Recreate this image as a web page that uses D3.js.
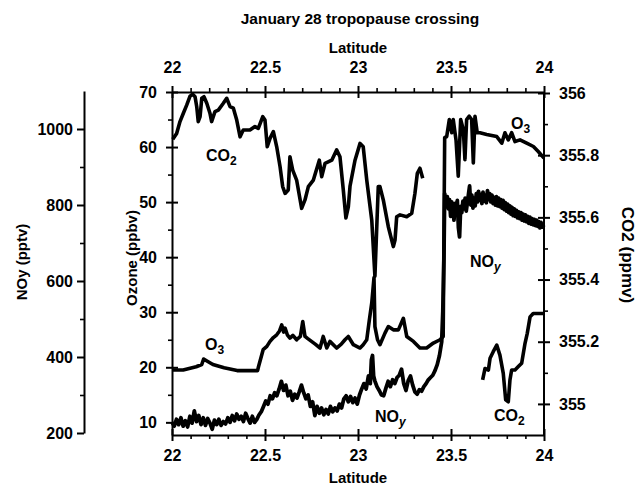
<!DOCTYPE html>
<html>
<head>
<meta charset="utf-8">
<script src="https://cdn.jsdelivr.net/npm/d3@7"></script>
<style>
  body { margin: 0; background: #fff; }
  svg { font-family: "Liberation Sans", Arial, sans-serif; font-weight: bold; }
</style>
</head>
<body>
<svg id="chart" width="641" height="486"></svg>
<script>
// [latitude, value] pairs
const co2West = [
  [22.004, 355.851], [22.025, 355.870], [22.043, 355.908], [22.061, 355.935], [22.079, 355.961],
  [22.097, 355.990], [22.111, 355.996], [22.124, 355.988], [22.133, 355.956], [22.141, 355.908],
  [22.151, 355.924], [22.160, 355.983], [22.172, 355.988], [22.187, 355.967], [22.204, 355.935],
  [22.213, 355.908], [22.231, 355.940], [22.249, 355.945], [22.276, 355.967], [22.294, 355.983],
  [22.312, 355.956], [22.330, 355.951], [22.348, 355.913], [22.366, 355.859], [22.383, 355.881],
  [22.419, 355.881], [22.446, 355.892], [22.464, 355.886], [22.488, 355.924], [22.500, 355.913],
  [22.512, 355.827], [22.527, 355.854], [22.545, 355.876], [22.563, 355.827], [22.581, 355.763],
  [22.595, 355.699], [22.608, 355.677], [22.625, 355.688], [22.634, 355.795], [22.649, 355.752],
  [22.670, 355.720], [22.697, 355.629], [22.715, 355.656], [22.733, 355.699], [22.760, 355.720],
  [22.792, 355.784], [22.805, 355.731], [22.823, 355.774], [22.859, 355.784], [22.885, 355.817],
  [22.903, 355.795], [22.921, 355.688], [22.935, 355.598], [22.948, 355.634], [22.957, 355.700],
  [22.984, 355.784], [23.011, 355.838], [23.028, 355.827], [23.047, 355.720], [23.074, 355.591],
  [23.086, 355.463], [23.091, 355.411], [23.109, 355.699], [23.118, 355.699], [23.136, 355.656],
  [23.163, 355.570], [23.190, 355.506], [23.199, 355.527], [23.208, 355.602], [23.226, 355.608],
  [23.262, 355.602], [23.289, 355.613], [23.306, 355.677], [23.319, 355.742], [23.333, 355.758],
  [23.348, 355.726]
]

const co2East = [
  [23.670, 355.077], [23.683, 355.114], [23.701, 355.109], [23.710, 355.147], [23.727, 355.168],
  [23.746, 355.189], [23.763, 355.157], [23.781, 355.098], [23.794, 355.013], [23.808, 355.007],
  [23.817, 355.077], [23.826, 355.109], [23.844, 355.109], [23.862, 355.120], [23.880, 355.131],
  [23.898, 355.195], [23.910, 355.227], [23.925, 355.280], [23.942, 355.291], [24.000, 355.291]
]

const ozone = [
  [22.000, 19.5], [22.060, 19.5], [22.130, 20.1], [22.160, 20.5], [22.170, 21.5], [22.190, 21.1],
  [22.220, 20.5], [22.280, 19.9], [22.350, 19.4], [22.460, 19.4], [22.465, 20.1], [22.490, 23.2],
  [22.510, 23.8], [22.527, 24.7], [22.545, 25.4], [22.563, 25.9], [22.578, 26.6], [22.590, 27.7],
  [22.600, 26.4], [22.608, 27.1], [22.620, 25.9], [22.634, 25.3], [22.650, 25.8], [22.670, 25.0],
  [22.690, 25.6], [22.703, 28.3], [22.715, 25.6], [22.730, 25.2], [22.750, 24.7], [22.770, 24.2],
  [22.796, 23.5], [22.813, 25.6], [22.832, 23.5], [22.849, 24.7], [22.885, 23.5], [22.910, 24.2],
  [22.930, 25.0], [22.948, 25.6], [22.975, 24.1], [23.011, 23.5], [23.028, 24.1], [23.047, 25.0],
  [23.061, 28.6], [23.074, 31.7], [23.086, 36.3], [23.091, 27.4], [23.105, 25.0], [23.118, 24.1],
  [23.145, 26.2], [23.163, 27.4], [23.190, 26.8], [23.217, 26.8], [23.244, 28.9], [23.262, 25.6],
  [23.298, 24.7], [23.333, 23.5], [23.369, 23.5], [23.405, 24.4], [23.441, 25.0], [23.458, 25.6],
  [23.466, 61.7], [23.477, 61.9], [23.491, 65.0], [23.504, 62.6], [23.512, 65.0], [23.527, 61.3],
  [23.539, 54.7], [23.552, 65.0], [23.566, 63.2], [23.575, 57.7], [23.584, 65.0], [23.598, 65.6],
  [23.611, 65.0], [23.620, 57.1], [23.629, 65.6], [23.641, 62.6], [23.656, 62.6], [23.692, 62.3],
  [23.746, 61.9], [23.773, 60.7], [23.790, 62.6], [23.808, 61.3], [23.826, 62.6], [23.844, 61.0],
  [23.871, 61.3], [23.907, 60.7], [23.943, 60.1], [23.969, 59.2], [24.000, 58.0]
]

const noy = [
  [22.000, 228], [22.012, 218], [22.024, 236], [22.036, 222], [22.048, 240], [22.060, 218],
  [22.072, 232], [22.084, 216], [22.096, 244], [22.108, 226], [22.120, 258], [22.132, 230],
  [22.144, 246], [22.156, 222], [22.168, 240], [22.180, 220], [22.192, 238], [22.204, 226],
  [22.216, 210], [22.228, 234], [22.240, 222], [22.252, 236], [22.264, 220], [22.276, 230],
  [22.288, 224], [22.300, 240], [22.312, 228], [22.324, 246], [22.336, 232], [22.348, 250],
  [22.360, 236], [22.372, 244], [22.384, 230], [22.396, 252], [22.408, 238], [22.420, 226],
  [22.432, 244], [22.444, 228], [22.456, 236], [22.468, 248], [22.480, 256], [22.492, 270],
  [22.504, 284], [22.516, 276], [22.528, 298], [22.540, 290], [22.552, 306], [22.564, 298],
  [22.576, 316], [22.588, 336], [22.600, 312], [22.612, 326], [22.624, 298], [22.636, 310],
  [22.648, 286], [22.660, 302], [22.672, 292], [22.684, 308], [22.696, 326], [22.708, 306],
  [22.720, 290], [22.732, 300], [22.744, 270], [22.756, 282], [22.768, 246], [22.780, 270],
  [22.792, 252], [22.804, 266], [22.816, 248], [22.828, 262], [22.840, 250], [22.852, 270],
  [22.864, 256], [22.876, 266], [22.888, 258], [22.900, 276], [22.912, 266], [22.924, 290],
  [22.936, 298], [22.948, 282], [22.960, 296], [22.972, 280], [22.984, 292], [22.996, 276],
  [23.008, 300], [23.020, 316], [23.032, 330], [23.044, 316], [23.056, 350], [23.066, 330],
  [23.072, 392], [23.078, 404], [23.084, 350], [23.090, 338], [23.102, 322], [23.114, 312],
  [23.126, 300], [23.138, 298], [23.150, 318], [23.162, 336], [23.174, 322], [23.186, 340],
  [23.198, 330], [23.210, 346], [23.222, 352], [23.234, 368], [23.246, 330], [23.258, 312],
  [23.270, 338], [23.282, 350], [23.294, 326], [23.306, 308], [23.318, 302], [23.330, 314],
  [23.342, 310], [23.354, 322], [23.366, 330], [23.378, 340], [23.390, 346], [23.402, 352],
  [23.414, 364], [23.426, 380], [23.438, 404], [23.450, 440], [23.456, 520], [23.462, 660],
  [23.466, 830], [23.474, 800], [23.480, 822], [23.486, 790], [23.492, 814], [23.498, 770],
  [23.504, 808], [23.510, 786], [23.516, 760], [23.522, 804], [23.528, 778], [23.534, 812],
  [23.540, 740], [23.546, 716], [23.552, 796], [23.558, 780], [23.564, 810], [23.570, 790],
  [23.576, 818], [23.582, 784], [23.588, 806], [23.594, 828], [23.600, 850], [23.606, 800],
  [23.612, 826], [23.618, 792], [23.624, 818], [23.630, 798], [23.636, 830], [23.642, 808],
  [23.648, 836], [23.654, 812], [23.660, 828], [23.666, 804], [23.672, 834], [23.678, 810],
  [23.684, 826], [23.690, 806], [23.696, 838], [23.702, 814], [23.708, 830], [23.714, 808],
  [23.720, 826], [23.726, 804], [23.732, 820], [23.738, 800], [23.744, 822], [23.750, 798],
  [23.756, 818], [23.762, 796], [23.768, 814], [23.774, 792], [23.780, 812], [23.786, 788],
  [23.792, 806], [23.798, 784], [23.804, 802], [23.810, 780], [23.816, 798], [23.822, 776],
  [23.828, 794], [23.834, 772], [23.840, 790], [23.846, 770], [23.852, 786], [23.858, 766],
  [23.864, 782], [23.870, 764], [23.876, 780], [23.882, 760], [23.888, 776], [23.894, 758],
  [23.900, 774], [23.906, 756], [23.912, 770], [23.918, 752], [23.924, 768], [23.930, 750],
  [23.936, 764], [23.942, 748], [23.948, 762], [23.954, 746], [23.960, 760], [23.966, 744],
  [23.972, 756], [23.978, 740], [23.984, 754], [23.990, 742], [24.000, 748]
]

const latTicks = [22, 22.5, 23, 23.5, 24]
const latMinor = [22.1, 22.2, 22.3, 22.4, 22.6, 22.7, 22.8, 22.9, 23.1, 23.2, 23.3, 23.4, 23.6, 23.7, 23.8, 23.9]
const ozoneTicks = [10, 20, 30, 40, 50, 60, 70]
const ozoneMinor = [15, 25, 35, 45, 55, 65]
const co2Ticks = [355, 355.2, 355.4, 355.6, 355.8, 356]
const co2Minor = [355.1, 355.3, 355.5, 355.7, 355.9]
const noyTicks = [200, 400, 600, 800, 1000]
const noyMinor = [300, 500, 700, 900]

const svg = d3.select('#chart')

const x = d3.scaleLinear().domain([22, 24]).range([172, 544])
const yO3 = d3.scaleLinear().domain([7.7, 70]).range([435, 92])
const yCO2 = d3.scaleLinear().domain([354.9, 356]).range([435, 93])
const yNOy = d3.scaleLinear().domain([200, 1100]).range([433, 91])

const fmt = d => String(d)

function styleAxis(g, cross) {
  g.selectAll('path.domain').attr('stroke-width', 2)
  g.selectAll('.tick line').attr('stroke-width', 2)
  g.selectAll('.tick text')
    .style('font-family', '"Liberation Sans", Arial, sans-serif')
    .style('font-weight', 'bold')
    .style('font-size', '16px')
    .attr('fill', '#000')
  if (cross) cross(g.selectAll('.tick line'))
}

function minor(axis, t) {
  return g => g.call(axis.tickValues(t).tickSize(4).tickFormat(''))
    .call(g => g.select('.domain').remove())
    .selectAll('.tick line').attr('stroke-width', 1.6)
}

// bottom axis
svg.append('g').attr('transform', 'translate(0,435)')
  .call(d3.axisBottom(x).tickValues(latTicks).tickFormat(fmt).tickSize(6).tickSizeOuter(0).tickPadding(9))
  .call(g => styleAxis(g, l => l.attr('y1', -6)))
svg.append('g').attr('transform', 'translate(0,435)').call(minor(d3.axisBottom(x), latMinor))

// top axis
svg.append('g').attr('transform', 'translate(0,92)')
  .call(d3.axisTop(x).tickValues(latTicks).tickFormat(fmt).tickSize(6).tickSizeOuter(0).tickPadding(13))
  .call(g => styleAxis(g, l => l.attr('y1', 6)))
svg.append('g').attr('transform', 'translate(0,92)').call(minor(d3.axisTop(x), latMinor))

// ozone axis
svg.append('g').attr('transform', 'translate(172,0)')
  .call(d3.axisLeft(yO3).tickValues(ozoneTicks).tickFormat(fmt).tickSize(6).tickSizeOuter(0).tickPadding(9))
  .call(g => styleAxis(g, l => l.attr('x1', 6)))
svg.append('g').attr('transform', 'translate(172,0)').call(minor(d3.axisLeft(yO3), ozoneMinor))

// CO2 axis
svg.append('g').attr('transform', 'translate(544,0)')
  .call(d3.axisRight(yCO2).tickValues(co2Ticks).tickFormat(fmt).tickSize(6).tickSizeOuter(0).tickPadding(9))
  .call(g => styleAxis(g, l => l.attr('x1', -6)))
  .call(g => g.select('.domain').attr('d', 'M0,435V92'))
svg.append('g').attr('transform', 'translate(544,0)').call(minor(d3.axisRight(yCO2), co2Minor))

// NOy axis, standing off to the left
svg.append('g').attr('transform', 'translate(84,0)')
  .call(d3.axisLeft(yNOy).tickValues(noyTicks).tickFormat(fmt).tickSize(7).tickSizeOuter(0).tickPadding(4))
  .call(g => styleAxis(g))
svg.append('g').attr('transform', 'translate(84,0)').call(minor(d3.axisLeft(yNOy), noyMinor))

// data lines
const lineOf = ys => d3.line().x(d => x(d[0])).y(d => ys(d[1]))
const series = [
  { data: co2West, y: yCO2, w: 3.6 },
  { data: co2East, y: yCO2, w: 3.6 },
  { data: ozone, y: yO3, w: 3.6 },
  { data: noy, y: yNOy, w: 3.8 }
]
svg.append('g').selectAll('path').data(series).join('path')
  .attr('d', s => lineOf(s.y)(s.data))
  .attr('fill', 'none')
  .attr('stroke', '#000')
  .attr('stroke-width', s => s.w)
  .attr('stroke-linejoin', 'round')

// titles
svg.append('text').attr('x', 360).attr('y', 24).attr('text-anchor', 'middle')
  .style('font-size', '15.5px').text('January 28 tropopause crossing')
svg.append('text').attr('x', 358).attr('y', 53).attr('text-anchor', 'middle')
  .style('font-size', '15px').text('Latitude')
svg.append('text').attr('x', 358).attr('y', 483).attr('text-anchor', 'middle')
  .style('font-size', '15px').text('Latitude')
svg.append('text').attr('transform', 'translate(137,258) rotate(-90)').attr('text-anchor', 'middle')
  .style('font-size', '15px').text('Ozone (ppbv)')
svg.append('text').attr('transform', 'translate(27,262) rotate(-90)').attr('text-anchor', 'middle')
  .style('font-size', '15px').text('NOy (pptv)')
svg.append('text').attr('transform', 'translate(622,255) rotate(90)').attr('text-anchor', 'middle')
  .style('font-size', '17px').text('CO2 (ppmv)')

// series labels inside the plot
function label(px, py, main, sub, italic) {
  const t = svg.append('text').attr('x', px).attr('y', py).style('font-size', '16px')
  t.append('tspan').text(main)
  t.append('tspan').attr('dy', 4).style('font-size', '12px')
    .style('font-style', italic ? 'italic' : 'normal').text(sub)
}
label(206, 161, 'CO', '2')
label(511, 129, 'O', '3')
label(205, 350, 'O', '3')
label(470, 267, 'NO', 'y', true)
label(375, 422, 'NO', 'y', true)
label(494, 421, 'CO', '2')
</script>
</body>
</html>
